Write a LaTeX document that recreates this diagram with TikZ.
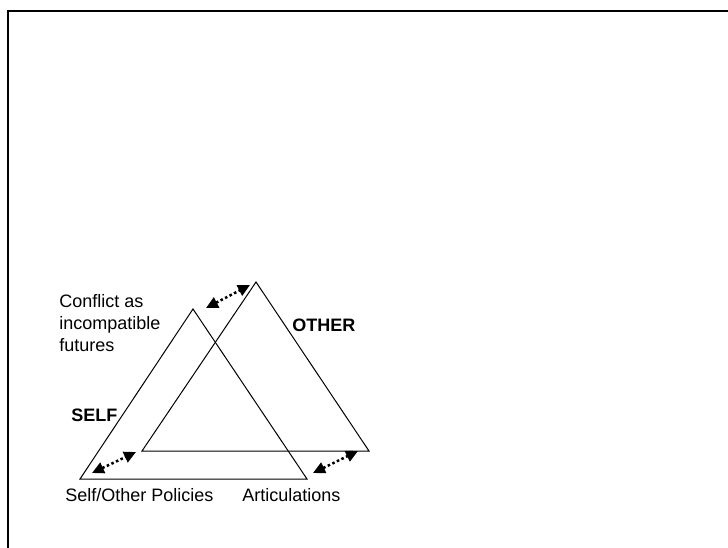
\documentclass[tikz,border=0pt]{standalone}
\usepackage{fontspec}
\setmainfont{Liberation Sans}
\usetikzlibrary{arrows.meta}

\begin{document}
\begin{tikzpicture}[x=0.75pt, y=-0.75pt,
  frameline/.style={line width=1.5pt, line cap=rect},
  triangle/.style={line width=0.75pt, line join=miter},
  link/.style={line width=1.9pt, dash pattern=on 1.9pt off 1.9pt,
    {Triangle[length=9pt,width=8.5pt]}-{Triangle[length=9pt,width=8.5pt]}},
  label/.style={inner sep=0pt, font=\fontsize{13.5pt}{16.5pt}\selectfont},
  boldlabel/.style={label, font=\fontsize{13.5pt}{16.5pt}\selectfont\bfseries}]

  \useasboundingbox (0,0) rectangle (728,547);

  % page frame, open to the right and bottom
  \draw[frameline] (728,10.5) -- (7.5,10.5) -- (7.5,547);

  % corners of the two triangles
  \coordinate (selftop)   at (193,309);
  \coordinate (selfleft)  at (80,479);
  \coordinate (selfright) at (307,479);
  \coordinate (othertop)   at (256,282);
  \coordinate (otherleft)  at (142,451);
  \coordinate (otherright) at (369,451);

  \draw[triangle] (selftop) -- (selfleft) -- (selfright) -- cycle;
  \draw[triangle] (othertop) -- (otherleft) -- (otherright) -- cycle;

  % ends of the dotted links between matching corners
  \coordinate (topa) at (206,308);
  \coordinate (topb) at (250,285);
  \coordinate (lefta) at (92,473);
  \coordinate (leftb) at (136,452);
  \coordinate (righta) at (313,473);
  \coordinate (rightb) at (358,451);

  \draw[link] (topa) -- (topb);
  \draw[link] (lefta) -- (leftb);
  \draw[link] (righta) -- (rightb);

  % labels (the three-line label is placed by the baseline of its last line)
  \node[label, anchor=base west, align=left] (conflict) at (59,351)
    {Conflict as\\incompatible\\futures};
  \node[boldlabel, anchor=base west] (selflabel) at (71,421) {SELF};
  \node[boldlabel, anchor=base west] (otherlabel) at (292,331) {OTHER};
  \node[label, anchor=base west] (policies) at (65,501) {Self/Other Policies};
  \node[label, anchor=base west] (articulations) at (242,501) {Articulations};
\end{tikzpicture}
\end{document}
